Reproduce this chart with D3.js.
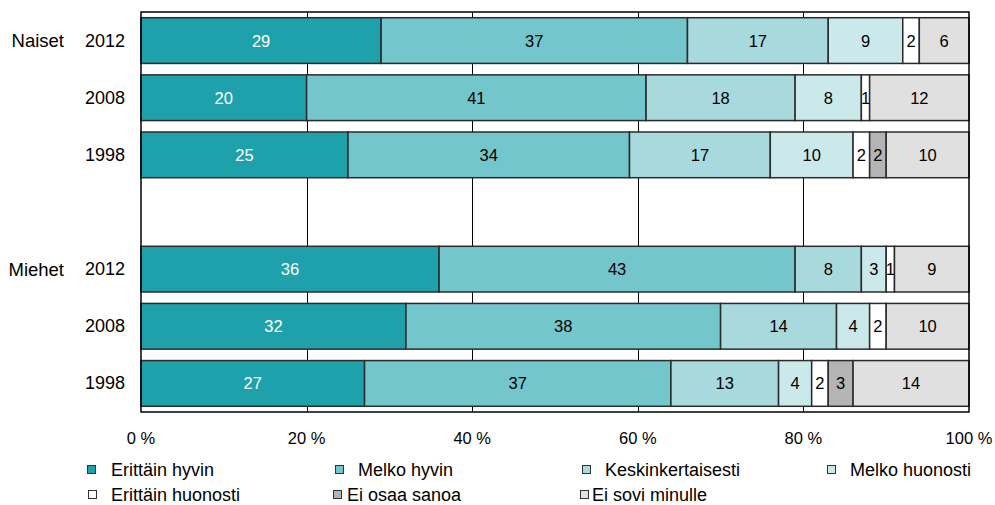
<!DOCTYPE html>
<html>
<head>
<meta charset="utf-8">
<script src="https://cdn.jsdelivr.net/npm/d3@7"></script>
<style>
  body { margin: 0; background: #fff; }
  svg { display: block; font-family: "Liberation Sans", Arial, sans-serif; }
</style>
</head>
<body>
<div class="chart"></div>
<script>
const rowKeys = ['N2012', 'N2008', 'N1998', 'gap', 'M2012', 'M2008', 'M1998'];
const rowYears = ['2012', '2008', '1998', '', '2012', '2008', '1998'];
const rowGroups = ['Naiset', '', '', '', 'Miehet', '', ''];

const seriesNames = ['Erittäin hyvin', 'Melko hyvin', 'Keskinkertaisesti', 'Melko huonosti',
  'Erittäin huonosti', 'Ei osaa sanoa', 'Ei sovi minulle'];

// values per row (rowKeys order, gap row = 0)
const erittainHyvin    = [29, 20, 25, 0, 36, 32, 27];
const melkoHyvin       = [37, 41, 34, 0, 43, 38, 37];
const keskinkertaisesti = [17, 18, 17, 0, 8, 14, 13];
const melkoHuonosti    = [9, 8, 10, 0, 3, 4, 4];
const erittainHuonosti = [2, 1, 2, 0, 1, 2, 2];
const eiOsaaSanoa      = [0, 0, 2, 0, 0, 0, 3];
const eiSoviMinulle    = [6, 12, 10, 0, 9, 10, 14];

const xTicks = [0, 20, 40, 60, 80, 100];

const seriesValues = [erittainHyvin, melkoHyvin, keskinkertaisesti, melkoHuonosti,
  erittainHuonosti, eiOsaaSanoa, eiSoviMinulle];

const colors = d3.scaleOrdinal()
  .domain(seriesNames)
  .range(['#1fa1ab', '#73c6cb', '#a7d9dd', '#cbe8ea', '#ffffff', '#b4b4b4', '#e0e0e0']);

const chartWidth = 995;
const chartHeight = 505;
const margin = { left: 141, right: 26, top: 12, bottom: 93 };
const width = chartWidth - margin.left - margin.right;
const height = chartHeight - margin.top - margin.bottom;

const svg = d3.select('.chart')
  .append('svg')
  .attr('width', chartWidth)
  .attr('height', chartHeight);

const g = svg.append('g')
  .attr('transform', `translate(${margin.left}, ${margin.top})`);

const xScale = d3.scaleLinear()
  .domain([0, 100])
  .range([0, width]);

const yScale = d3.scaleBand()
  .domain(rowKeys)
  .range([0, height])
  .paddingInner(0.2)
  .paddingOuter(0.1);

// grid lines
g.append('g')
  .selectAll('line')
  .data(xTicks.slice(1, -1))
  .enter()
  .append('line')
  .attr('x1', d => Math.round(xScale(d)) + 0.5)
  .attr('x2', d => Math.round(xScale(d)) + 0.5)
  .attr('y1', 0)
  .attr('y2', height)
  .attr('stroke', '#000')
  .attr('stroke-width', 1);

// stacked segments
const rows = rowKeys.map((key, i) => {
  let acc = 0;
  return seriesNames.map((name, s) => {
    const v = seriesValues[s][i];
    const seg = { key, name, s, value: v, x0: acc, x1: acc + v };
    acc += v;
    return seg;
  }).filter(d => d.value > 0);
});
const segments = rows.flat();

g.append('g')
  .selectAll('rect')
  .data(segments)
  .enter()
  .append('rect')
  .attr('x', d => xScale(d.x0))
  .attr('y', d => yScale(d.key))
  .attr('width', d => xScale(d.x1) - xScale(d.x0))
  .attr('height', yScale.bandwidth())
  .attr('fill', d => colors(d.name))
  .attr('stroke', '#2b2b2b')
  .attr('stroke-width', 1.5);

g.append('g')
  .selectAll('text')
  .data(segments)
  .enter()
  .append('text')
  .attr('x', d => (xScale(d.x0) + xScale(d.x1)) / 2)
  .attr('y', d => yScale(d.key) + yScale.bandwidth() / 2)
  .attr('text-anchor', 'middle')
  .attr('dominant-baseline', 'central')
  .attr('font-size', '16.5px')
  .attr('fill', d => d.s === 0 ? '#fff' : '#000')
  .text(d => d.value);

// plot frame
g.append('rect')
  .attr('x', 0)
  .attr('y', 0)
  .attr('width', width)
  .attr('height', height)
  .attr('fill', 'none')
  .attr('stroke', '#000')
  .attr('stroke-width', 1.5);

// x axis labels
g.append('g')
  .selectAll('text')
  .data(xTicks)
  .enter()
  .append('text')
  .attr('x', d => xScale(d))
  .attr('y', height + 26)
  .attr('text-anchor', 'middle')
  .attr('dominant-baseline', 'central')
  .attr('font-size', '16.5px')
  .attr('fill', '#000')
  .text(d => `${d} %`);

// y labels
rowKeys.forEach((key, i) => {
  const cy = margin.top + yScale(key) + yScale.bandwidth() / 2;
  svg.append('text')
    .attr('x', 125)
    .attr('y', cy)
    .attr('text-anchor', 'end')
    .attr('dominant-baseline', 'central')
    .attr('font-size', '18px')
    .text(rowYears[i]);
  svg.append('text')
    .attr('x', 64)
    .attr('y', cy)
    .attr('text-anchor', 'end')
    .attr('dominant-baseline', 'central')
    .attr('font-size', '18.5px')
    .text(rowGroups[i]);
});

// legend
const legendPos = [
  { sx: 87, tx: 111, y: 470 },
  { sx: 335, tx: 358, y: 470 },
  { sx: 582, tx: 605, y: 470 },
  { sx: 827, tx: 850, y: 470 },
  { sx: 88, tx: 111, y: 495 },
  { sx: 333, tx: 347, y: 495 },
  { sx: 580, tx: 592, y: 495 }
];

const legend = svg.append('g')
  .selectAll('g')
  .data(seriesNames)
  .enter()
  .append('g');

legend.append('rect')
  .attr('x', (d, i) => legendPos[i].sx + 0.5)
  .attr('y', (d, i) => legendPos[i].y - 4.5)
  .attr('width', 8)
  .attr('height', 8)
  .attr('fill', d => colors(d))
  .attr('stroke', '#333')
  .attr('stroke-width', 1);

legend.append('text')
  .attr('x', (d, i) => legendPos[i].tx)
  .attr('y', (d, i) => legendPos[i].y)
  .attr('dominant-baseline', 'central')
  .attr('font-size', '18px')
  .attr('fill', '#000')
  .text(d => d);
</script>
</body>
</html>
